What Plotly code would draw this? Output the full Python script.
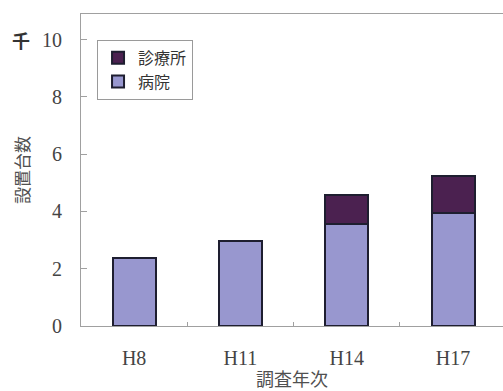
import plotly.graph_objects as go

# 調査年次ごとの設置台数（千台）
years = ["H8", "H11", "H14", "H17"]
hospital = [2.37, 2.98, 3.55, 3.94]   # 病院
clinic = [0.0, 0.0, 1.02, 1.29]       # 診療所

HOSP_COLOR = "#9897cf"
CLIN_COLOR = "#4b2150"
EDGE = "#1e1e30"
AXIS_GREY = "#a0a0a0"
SERIF = "Liberation Serif"
CJK = "Noto Sans CJK JP"

fig = go.Figure()
fig.add_trace(go.Bar(
    x=years, y=hospital, name="病院",
    marker=dict(color=HOSP_COLOR, line=dict(color=EDGE, width=2)),
    width=0.405,
))
fig.add_trace(go.Bar(
    x=years, y=clinic, name="診療所",
    marker=dict(color=CLIN_COLOR, line=dict(color=EDGE, width=2)),
    width=0.405,
))

fig.update_layout(
    width=503, height=391,
    margin=dict(l=81, r=0, t=14, b=65),
    barmode="stack",
    paper_bgcolor="white",
    plot_bgcolor="white",
    showlegend=True,
    legend=dict(
        x=0.038, y=0.917, xanchor="left", yanchor="top",
        bordercolor="#9a9a9a", borderwidth=1, bgcolor="white",
        font=dict(family=CJK, size=16, color="#333333"),
        traceorder="reversed", itemwidth=30, tracegroupgap=0,
    ),
    xaxis=dict(
        range=[-0.5, 3.47],
        showline=True, linecolor=AXIS_GREY, linewidth=1, mirror=True,
        ticks="inside", ticklen=4, tickcolor=AXIS_GREY, tickson="boundaries",
        tickfont=dict(family=SERIF, size=20, color="#444444"),
        ticklabelstandoff=14,
        showgrid=False, zeroline=False,
        title=dict(text="調査年次", font=dict(family=CJK, size=18, color="#505050"),
                   standoff=8),
    ),
    yaxis=dict(
        range=[0, 10.89],
        tickvals=[0, 2, 4, 6, 8, 10],
        showline=True, linecolor=AXIS_GREY, linewidth=1,
        ticks="inside", ticklen=6, tickcolor=AXIS_GREY,
        tickfont=dict(family=SERIF, size=20, color="#444444"),
        ticklabelstandoff=14,
        showgrid=False, zeroline=False,
        title=dict(text="設置台数", font=dict(family=CJK, size=17, color="#505050"),
                   standoff=8),
    ),
)

# 単位（千）
fig.add_annotation(
    text="<b>千</b>", xref="paper", yref="y", x=-0.142, y=10,
    xanchor="center", yanchor="middle", showarrow=False,
    font=dict(family=CJK, size=18, color="#333333"),
)

fig.write_html("out.html")
